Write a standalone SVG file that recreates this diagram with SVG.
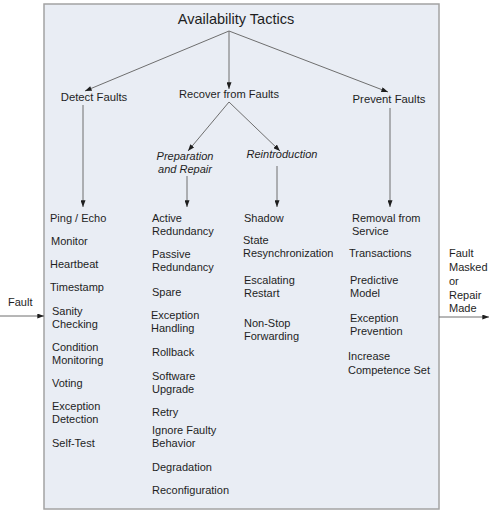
<svg xmlns="http://www.w3.org/2000/svg" width="497" height="514" viewBox="0 0 497 514">
<style>
text{font-family:"Liberation Sans",Arial,sans-serif;fill:#1e1e1e;font-size:11px}
.t{font-size:14.5px}
.h{font-size:11.3px}
.i{font-style:italic}
.c{stroke:#6e6e6e;stroke-width:1;fill:none;marker-end:url(#a)}
</style>
<defs>
<marker id="a" viewBox="0 0 8 6" refX="8" refY="3" markerWidth="7" markerHeight="5" orient="auto" markerUnits="userSpaceOnUse">
<path d="M0,0L8,3L0,6z" fill="#1e1e1e"/>
</marker>
</defs>
<rect x="0" y="0" width="497" height="514" fill="#fff"/>
<rect id="frame" x="44" y="4" width="395" height="505" fill="#e9edf4" stroke="#a3a3a3" stroke-width="1.5"/>
<g id="connectors">
<line class="c" x1="229" y1="31" x2="85" y2="91"/>
<line class="c" x1="229" y1="31" x2="229" y2="89"/>
<line class="c" x1="229" y1="31" x2="388" y2="92"/>
<line class="c" x1="229" y1="102" x2="188" y2="151"/>
<line class="c" x1="229" y1="102" x2="280" y2="151"/>
<line class="c" x1="83" y1="105" x2="83" y2="207"/>
<line class="c" x1="187" y1="176" x2="187" y2="207"/>
<line class="c" x1="277" y1="166" x2="277" y2="207"/>
<line class="c" x1="390" y1="108" x2="390" y2="207"/>
<line class="c" x1="0" y1="316" x2="44" y2="316"/>
<line class="c" x1="439" y1="317" x2="489" y2="317"/>
</g>
<g id="title"><text class="t" x="236" y="24" text-anchor="middle">Availability Tactics</text></g>
<g id="detect"><text class="h" x="94" y="101" text-anchor="middle">Detect Faults</text></g>
<g id="recover"><text class="h" x="229" y="98" text-anchor="middle" textLength="100" lengthAdjust="spacingAndGlyphs">Recover from Faults</text></g>
<g id="prevent"><text class="h" x="389" y="103" text-anchor="middle">Prevent Faults</text></g>
<g id="prep"><text class="i" x="185" y="160" text-anchor="middle">Preparation</text><text class="i" x="185" y="173" text-anchor="middle">and Repair</text></g>
<g id="reintro"><text class="i" x="282" y="158" text-anchor="middle">Reintroduction</text></g>
<g id="col-detect">
<text x="50" y="222">Ping / Echo</text>
<text x="51" y="245">Monitor</text>
<text x="50" y="268">Heartbeat</text>
<text x="50" y="291">Timestamp</text>
<text x="52" y="315">Sanity</text>
<text x="52" y="328">Checking</text>
<text x="52" y="351">Condition</text>
<text x="52" y="364">Monitoring</text>
<text x="52" y="387">Voting</text>
<text x="52" y="410">Exception</text>
<text x="52" y="423">Detection</text>
<text x="52" y="447">Self-Test</text>
</g>
<g id="col-prep">
<text x="152" y="222">Active</text>
<text x="152" y="235">Redundancy</text>
<text x="152" y="258">Passive</text>
<text x="152" y="271">Redundancy</text>
<text x="152" y="296">Spare</text>
<text x="151" y="319">Exception</text>
<text x="151" y="332">Handling</text>
<text x="152" y="356">Rollback</text>
<text x="152" y="380">Software</text>
<text x="152" y="393">Upgrade</text>
<text x="152" y="416">Retry</text>
<text x="152" y="434">Ignore Faulty</text>
<text x="152" y="447">Behavior</text>
<text x="152" y="471">Degradation</text>
<text x="152" y="494">Reconfiguration</text>
</g>
<g id="col-reintro">
<text x="244" y="222">Shadow</text>
<text x="243" y="244">State</text>
<text x="243" y="257">Resynchronization</text>
<text x="244" y="284">Escalating</text>
<text x="244" y="297">Restart</text>
<text x="244" y="327">Non-Stop</text>
<text x="244" y="340">Forwarding</text>
</g>
<g id="col-prevent">
<text x="352" y="222">Removal from</text>
<text x="352" y="235">Service</text>
<text x="349" y="257">Transactions</text>
<text x="350" y="284">Predictive</text>
<text x="350" y="297">Model</text>
<text x="350" y="322">Exception</text>
<text x="350" y="335">Prevention</text>
<text x="348" y="360">Increase</text>
<text x="348" y="374">Competence Set</text>
</g>
<g id="fault-in"><text x="8" y="306">Fault</text></g>
<g id="fault-out">
<text x="449" y="257">Fault</text>
<text x="449" y="271">Masked</text>
<text x="449" y="285">or</text>
<text x="449" y="299">Repair</text>
<text x="449" y="312">Made</text>
</g>
</svg>
